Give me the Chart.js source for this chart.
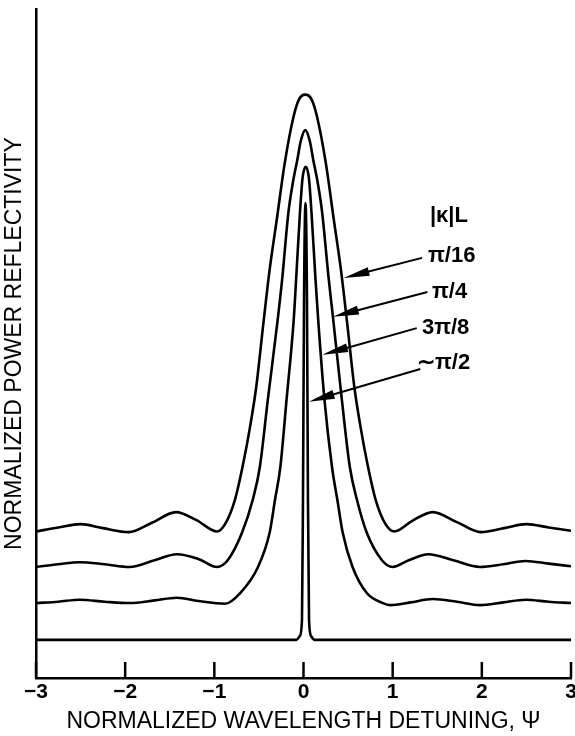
<!DOCTYPE html>
<html><head><meta charset="utf-8">
<script src="https://cdn.jsdelivr.net/npm/chart.js@4.4.1/dist/chart.umd.min.js"></script>
<style>html,body{margin:0;padding:0;background:#fff}#wrap{width:575px;height:736px}</style>
</head><body><div id="wrap"><canvas id="c" width="575" height="736"></canvas></div>
<script>
// ---- tick labels ----
const xTickLabels = ['\u22123', '\u22122', '\u22121', '0', '1', '2', '3'];

// ---- series: |κ|L = π/16 ----
const psi1  = [-3.0, -2.75, -2.5, -2.25, -1.96, -1.7, -1.43, -1.2, -0.97, -0.88, -0.77, -0.68, -0.60, -0.53, -0.45, -0.38, -0.30, -0.21, -0.11, -0.05, 0.02, 0.09, 0.15, 0.25, 0.34, 0.42, 0.49, 0.57, 0.64, 0.72, 0.81, 0.92, 1.02, 1.22, 1.45, 1.72, 1.99, 2.25, 2.50, 2.75, 3.0];
const refl1 = [21.9, 22.5, 23.0, 22.4, 21.8, 23.2, 24.8, 23.6, 21.9, 23.0, 26.6, 31.8, 37.5, 43.5, 53.0, 61.0, 68.5, 77.0, 84.0, 86.5, 87.2, 86.5, 84.0, 77.0, 68.5, 61.0, 53.0, 43.5, 37.5, 31.8, 26.6, 23.0, 21.9, 23.5, 24.8, 23.3, 21.8, 22.4, 23.0, 22.5, 22.0];

// ---- series: |κ|L = π/4 ----
const psi2  = [-3.0, -2.75, -2.51, -2.23, -1.95, -1.67, -1.42, -1.18, -0.97, -0.85, -0.69, -0.57, -0.49, -0.40, -0.29, -0.24, -0.17, -0.12, -0.07, -0.03, 0.02, 0.07, 0.11, 0.16, 0.21, 0.28, 0.33, 0.43, 0.52, 0.60, 0.71, 0.88, 1.00, 1.18, 1.40, 1.68, 1.98, 2.24, 2.49, 2.75, 3.0];
const refl2 = [16.6, 17.0, 17.3, 17.0, 16.6, 17.6, 18.5, 17.8, 16.6, 17.6, 21.7, 26.6, 31.5, 41.6, 53.5, 59.5, 69.5, 74.0, 77.4, 80.3, 81.9, 80.3, 77.4, 74.0, 69.5, 60.0, 54.0, 41.6, 31.5, 26.6, 21.7, 17.6, 16.6, 17.6, 18.5, 17.6, 16.6, 17.0, 17.5, 17.1, 16.7];

// ---- series: |κ|L = 3π/8 ----
const psi3  = [-3.0, -2.75, -2.51, -2.23, -1.95, -1.67, -1.42, -1.18, -0.88, -0.71, -0.51, -0.38, -0.32, -0.26, -0.19, -0.11, -0.083, -0.04, -0.01, 0.025, 0.06, 0.09, 0.135, 0.165, 0.235, 0.32, 0.38, 0.44, 0.55, 0.71, 0.89, 0.97, 1.20, 1.45, 1.72, 1.98, 2.24, 2.49, 2.75, 3.0];
const refl3 = [11.2, 11.4, 11.7, 11.4, 11.2, 11.6, 12.0, 11.5, 11.1, 12.7, 16.6, 21.7, 26.6, 31.5, 41.6, 53.5, 59.5, 69.5, 74.8, 76.4, 74.8, 69.5, 59.5, 53.5, 41.6, 31.5, 26.6, 21.7, 16.6, 12.7, 11.2, 10.9, 11.3, 11.8, 11.4, 10.9, 11.3, 11.7, 11.4, 11.2];

// ---- series: |κ|L ≈ π/2 ----
const psi4  = [-3.0, -0.08, -0.04, -0.017, -0.006, 0.006, 0.022, 0.039, 0.050, 0.062, 0.084, 0.13, 3.0];
const refl4 = [5.7, 5.7, 6.3, 8.7, 26.6, 56.5, 71.0, 56.5, 26.6, 8.7, 6.3, 5.7, 5.7];

// ---- annotation text ----
const legendTitle = '|\u03ba|L';
const seriesLabels = ['\u03c0/16', '\u03c0/4', '3\u03c0/8', '\u223c\u03c0/2'];
// label anchor (psi, refl), arrow start (psi, refl), arrow tip (psi, refl)
const labelPsi  = [1.396, 1.441, 1.328, 1.272];
const labelRefl = [63.1, 57.7, 52.3, 47.1];
const arrowFromPsi  = [1.33, 1.39, 1.27, 1.31];
const arrowFromRefl = [62.8, 57.7, 52.3, 46.2];
const arrowToPsi    = [0.45, 0.33, 0.21, 0.06];
const arrowToRefl   = [59.8, 54.0, 48.3, 41.3];
const legendTitlePsi = 1.418, legendTitleRefl = 69.1;

function pts(xs, ys) { return xs.map((x, i) => ({x: x, y: ys[i]})); }

const lineStyle = {
  borderColor: '#000', borderWidth: 2.6, pointRadius: 0, fill: false,
  cubicInterpolationMode: 'monotone', showLine: true
};

const annotPlugin = {
  id: 'annot',
  afterDatasetsDraw(chart) {
    const {ctx, scales: {x, y}, chartArea} = chart;
    ctx.save();
    // inward tick marks on x axis
    ctx.strokeStyle = '#000';
    ctx.lineWidth = 2.5;
    x.ticks.forEach(t => {
      const px = x.getPixelForValue(t.value);
      ctx.beginPath();
      ctx.moveTo(px, chartArea.bottom);
      ctx.lineTo(px, chartArea.bottom - 16);
      ctx.stroke();
    });
    // arrows
    for (let i = 0; i < seriesLabels.length; i++) {
      const x0 = x.getPixelForValue(arrowFromPsi[i]), y0 = y.getPixelForValue(arrowFromRefl[i]);
      const x1 = x.getPixelForValue(arrowToPsi[i]),   y1 = y.getPixelForValue(arrowToRefl[i]);
      const ang = Math.atan2(y1 - y0, x1 - x0);
      const L = 26, W = 4.5;
      ctx.lineWidth = 2;
      ctx.beginPath();
      ctx.moveTo(x0, y0);
      ctx.lineTo(x1 - Math.cos(ang) * L * 0.8, y1 - Math.sin(ang) * L * 0.8);
      ctx.stroke();
      ctx.fillStyle = '#000';
      ctx.beginPath();
      ctx.moveTo(x1, y1);
      ctx.lineTo(x1 - Math.cos(ang) * L - Math.sin(ang) * W, y1 - Math.sin(ang) * L + Math.cos(ang) * W);
      ctx.lineTo(x1 - Math.cos(ang) * L + Math.sin(ang) * W, y1 - Math.sin(ang) * L - Math.cos(ang) * W);
      ctx.closePath();
      ctx.fill();
    }
    // labels
    ctx.fillStyle = '#000';
    ctx.font = 'bold 22px "Liberation Sans", Arial, sans-serif';
    ctx.textAlign = 'left';
    ctx.textBaseline = 'middle';
    ctx.fillText(legendTitle, x.getPixelForValue(legendTitlePsi), y.getPixelForValue(legendTitleRefl));
    for (let i = 0; i < seriesLabels.length; i++) {
      ctx.fillText(seriesLabels[i], x.getPixelForValue(labelPsi[i]), y.getPixelForValue(labelRefl[i]));
    }
    ctx.restore();
  }
};

new Chart(document.getElementById('c'), {
  type: 'line',
  data: {
    datasets: [
      Object.assign({label: seriesLabels[0], data: pts(psi1, refl1)}, lineStyle),
      Object.assign({label: seriesLabels[1], data: pts(psi2, refl2)}, lineStyle),
      Object.assign({label: seriesLabels[2], data: pts(psi3, refl3)}, lineStyle),
      Object.assign({label: seriesLabels[3], data: pts(psi4, refl4)}, lineStyle)
    ]
  },
  options: {
    responsive: false,
    devicePixelRatio: 1,
    animation: false,
    layout: {padding: {top: 9, right: 4, left: 0, bottom: 0}},
    plugins: {legend: {display: false}, tooltip: {enabled: false}},
    scales: {
      x: {
        type: 'linear', min: -3, max: 3,
        afterFit: s => { s.height = 58; s.paddingLeft = 0; s.paddingRight = 0; },
        ticks: {
          stepSize: 1, autoSkip: false, maxRotation: 0, padding: 2, color: '#000',
          font: {family: '"Liberation Sans", Arial, sans-serif', size: 21, weight: 'bold'},
          callback: v => xTickLabels[Math.round(v) + 3]
        },
        grid: {display: true, drawOnChartArea: false, drawTicks: false},
        border: {display: true, color: '#000', width: 2.5},
        title: {
          display: true, text: 'NORMALIZED WAVELENGTH DETUNING, \u03a8', color: '#000',
          font: {family: '"Liberation Sans", Arial, sans-serif', size: 23},
          padding: {top: 0, bottom: 1}
        }
      },
      y: {
        type: 'linear', min: 0, max: 100,
        afterFit: s => { s.width = 36; s.paddingTop = 0; s.paddingBottom = 0; },
        ticks: {display: false},
        grid: {display: true, drawOnChartArea: false, drawTicks: false},
        border: {display: true, color: '#000', width: 2.5},
        title: {
          display: true, text: 'NORMALIZED POWER REFLECTIVITY', color: '#000',
          font: {family: '"Liberation Sans", Arial, sans-serif', size: 23},
          padding: {top: 1, bottom: 0}
        }
      }
    }
  },
  plugins: [annotPlugin]
});
</script>
</body></html>
